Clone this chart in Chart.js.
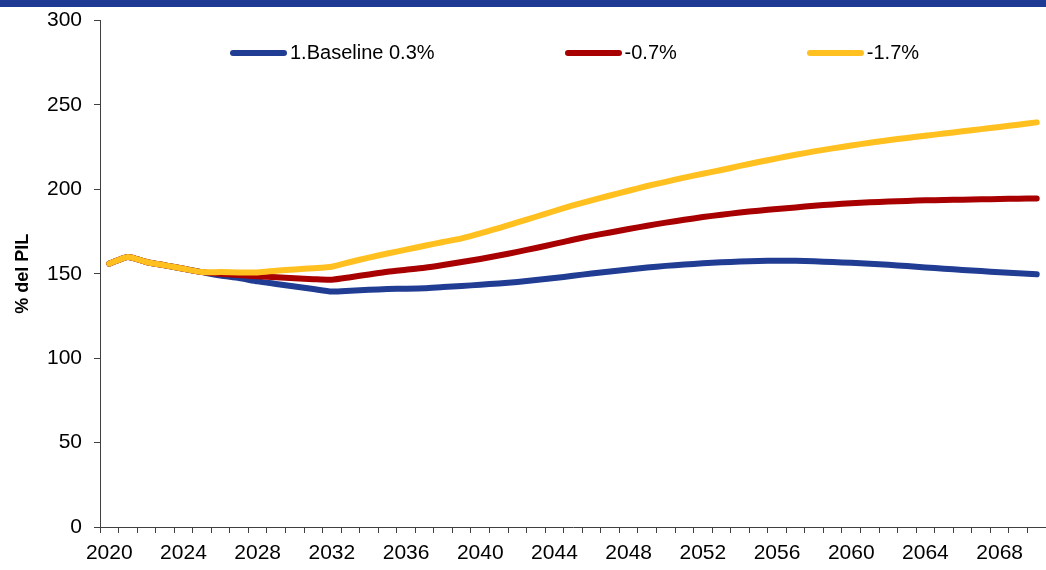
<!DOCTYPE html>
<html>
<head>
<meta charset="utf-8">
<script src="https://cdn.jsdelivr.net/npm/chart.js@4"></script>
<style>
    body { margin: 0; background: #fff; }
    #wrap { position: relative; width: 1046px; height: 570px; overflow: hidden; }
    #debtChart { position: absolute; left: 0; top: -4px; }
    #topBar { position: absolute; left: 0; top: 0; width: 1046px; height: 7px; background: #1f3a93; }
    #legend {
        position: absolute; left: 230px; top: 41px;
        display: flex; gap: 130px;
        font: 20px "Liberation Sans", Arial, sans-serif; color: #000;
    }
    .item { display: flex; align-items: center; white-space: nowrap; }
    .swatch { width: 57px; height: 6px; border-radius: 3px; margin-right: 3px; }
</style>
</head>
<body>
<div id="wrap">
    <canvas id="debtChart" width="1046" height="574"></canvas>
    <div id="topBar"></div>
    <div id="legend"></div>
</div>
<script>
// years 2020..2070
const years = [];
for (let y = 2020; y <= 2070; y++) years.push(y);

const baseline = [
    156, 160, 157, 155, 153, 151, 149, 147.5, 145.5, 144,
    142.5, 141, 139.5, 140, 140.5, 141, 141.2, 141.5, 142.2, 142.8,
    143.5, 144.3, 145.2, 146.3, 147.5, 148.8, 150.2, 151.4, 152.6, 153.7,
    154.7, 155.5, 156.2, 156.8, 157.3, 157.6, 157.8, 157.7, 157.4, 157.0,
    156.5, 156.0, 155.3, 154.6, 153.8, 153.0, 152.3, 151.6, 150.9, 150.3,
    149.7
];
const minus07 = [
    156, 160, 157, 155, 153, 151, 150, 149.3, 148.5, 148,
    147.3, 146.8, 146.5, 148, 149.6, 151.2, 152.4, 153.6, 155.2, 157,
    158.8, 160.8, 163, 165.3, 167.7, 170.2, 172.5, 174.5, 176.5, 178.5,
    180.3, 182, 183.6, 185, 186.3, 187.4, 188.4, 189.3, 190.3, 191.1,
    191.8, 192.4, 192.8, 193.2, 193.5, 193.7, 193.9, 194.1, 194.3, 194.5,
    194.6
];
const minus17 = [
    156, 160, 157, 155, 153, 151, 151, 150.8, 150.8, 151.8,
    152.6, 153.3, 154.2, 157, 159.6, 162, 164.3, 166.6, 168.8, 171,
    174, 177, 180.4, 183.8, 187.2, 190.5, 193.5, 196.4, 199.2, 202,
    204.5, 207, 209.3, 211.5, 213.9, 216.2, 218.4, 220.5, 222.5, 224.3,
    226, 227.6, 229.1, 230.5, 231.8, 233.1, 234.4, 235.7, 237, 238.3,
    239.7
];

const seriesLabels = ['1.Baseline 0.3%', '-0.7%', '-1.7%'];
const seriesColors = ['#203c93', '#a80000', '#ffc020'];
const yTicks = [0, 50, 100, 150, 200, 250, 300];

const FONT = '"Liberation Sans", Arial, sans-serif';
const AXIS_COLOR = '#404040';

function makeLine(label, data, color) {
    return {
        label: label,
        data: data,
        borderColor: color,
        backgroundColor: color,
        borderWidth: 6,
        borderCapStyle: 'round',
        borderJoinStyle: 'round',
        pointRadius: 0,
        tension: 0.2,
        fill: false
    };
}

const datasets = [
    makeLine(seriesLabels[0], baseline, seriesColors[0]),
    makeLine(seriesLabels[1], minus07, seriesColors[1]),
    makeLine(seriesLabels[2], minus17, seriesColors[2])
].reverse(); // yellow drawn under red under blue

const chart = new Chart(document.getElementById('debtChart'), {
    type: 'line',
    data: { labels: years.map(String), datasets: datasets },
    options: {
        responsive: false,
        devicePixelRatio: 1,
        animation: false,
        layout: { padding: { top: 16, left: 0, right: 0, bottom: 0 } },
        plugins: { legend: { display: false }, tooltip: { enabled: false } },
        scales: {
            x: {
                type: 'category',
                offset: true,
                grid: { offset: true, drawOnChartArea: false, tickLength: 6, color: AXIS_COLOR },
                border: { color: AXIS_COLOR, width: 1 },
                ticks: {
                    autoSkip: false, maxRotation: 0, padding: 8,
                    color: '#000', font: { family: FONT, size: 21 },
                    callback: (v, i) => ((years[i] - 2020) % 4 === 0 ? String(years[i]) : '')
                },
                afterFit: s => { s.height = 43; }
            },
            y: {
                min: 0, max: 300,
                afterBuildTicks: s => { s.ticks = yTicks.map(v => ({ value: v })); },
                grid: { drawOnChartArea: false, tickLength: 6, color: AXIS_COLOR },
                border: { color: AXIS_COLOR, width: 1 },
                ticks: { padding: 12, color: '#000', font: { family: FONT, size: 21 } },
                title: {
                    display: true, text: '% del PIL', color: '#000',
                    padding: { top: 12, bottom: 0 },
                    font: { family: FONT, size: 18, weight: 'bold' }
                },
                afterFit: s => { s.width = 100; }
            }
        }
    }
});

// legend built from the series
const legend = document.getElementById('legend');
seriesLabels.forEach((label, i) => {
    const item = document.createElement('div');
    item.className = 'item';
    item.innerHTML = '<span class="swatch" style="background:' + seriesColors[i] + '"></span>' + label;
    legend.appendChild(item);
});
</script>
</body>
</html>
